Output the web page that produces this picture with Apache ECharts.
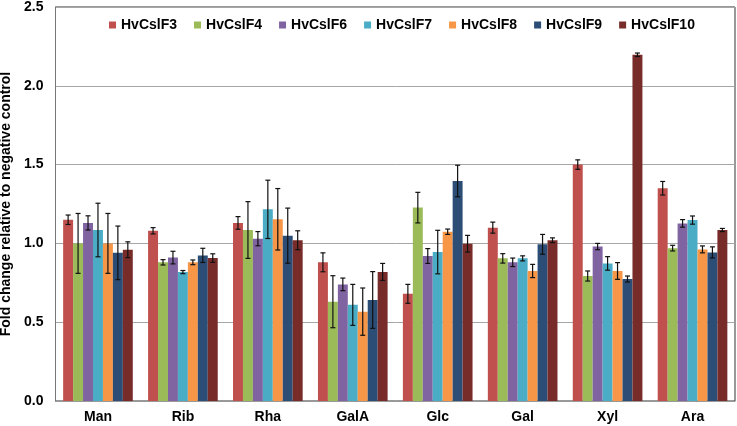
<!DOCTYPE html>
<html><head><meta charset="utf-8">
<script src="https://cdn.jsdelivr.net/npm/echarts@6/dist/echarts.min.js"></script>
<style>html,body{margin:0;padding:0;background:#fff}#c{width:737px;height:426px}</style>
</head><body><div id="c"></div>
<script>
const categories = ['Man','Rib','Rha','GalA','Glc','Gal','Xyl','Ara'];
const seriesNames = ['HvCslF3','HvCslF4','HvCslF6','HvCslF7','HvCslF8','HvCslF9','HvCslF10'];
const colors = ['#C0504D','#9BBB59','#8064A2','#4BACC6','#F79646','#2C4D75','#772C2A'];
const F3 = [1.15, 1.08, 1.13, 0.88, 0.68, 1.10, 1.50, 1.35];
const F3err = [0.03, 0.02, 0.04, 0.06, 0.06, 0.035, 0.03, 0.043];
const F4 = [1.00, 0.88, 1.085, 0.63, 1.227, 0.905, 0.793, 0.97];
const F4err = [0.19, 0.017, 0.18, 0.165, 0.097, 0.03, 0.032, 0.018];
const F6 = [1.13, 0.91, 1.03, 0.74, 0.92, 0.88, 0.98, 1.127];
const F6err = [0.045, 0.04, 0.045, 0.04, 0.047, 0.027, 0.02, 0.024];
const F7 = [1.085, 0.818, 1.216, 0.61, 0.945, 0.905, 0.873, 1.148];
const F7err = [0.17, 0.01, 0.185, 0.13, 0.138, 0.016, 0.043, 0.026];
const F8 = [1.00, 0.88, 1.153, 0.567, 1.074, 0.825, 0.825, 0.962];
const F8err = [0.19, 0.015, 0.195, 0.15, 0.017, 0.042, 0.053, 0.022];
const F9 = [0.94, 0.924, 1.049, 0.641, 1.396, 0.994, 0.774, 0.943];
const F9err = [0.17, 0.045, 0.175, 0.18, 0.1, 0.063, 0.019, 0.035];
const F10 = [0.96, 0.907, 1.02, 0.819, 0.998, 1.02, 2.197, 1.085];
const F10err = [0.05, 0.027, 0.06, 0.054, 0.053, 0.015, 0.011, 0.01];
const yTicks = ['0.0','0.5','1.0','1.5','2.0','2.5'];

const values = [F3, F4, F6, F7, F8, F9, F10];
const errors = [F3err, F4err, F6err, F7err, F8err, F9err, F10err];
const CAT_GAP = 0.18;
const FONT = '"Liberation Sans", Arial, sans-serif';

const chart = echarts.init(document.getElementById('c'));
const series = [];
values.forEach((vals, i) => {
  series.push({
    name: seriesNames[i], type: 'bar', data: vals,
    barGap: '0%', barCategoryGap: (CAT_GAP*100)+'%',
    itemStyle: {color: colors[i]}, z: 2
  });
});
values.forEach((vals, i) => {
  series.push({
    type: 'custom', z: 5, silent: true,
    data: vals.map((v, k) => [k, v, errors[i][k]]),
    renderItem: function (params, api) {
      const k = api.value(0), v = api.value(1), e = api.value(2);
      const c = api.coord([k, v]);
      const band = api.size([1, 0])[0];
      const bw = band * (1 - CAT_GAP) / values.length;
      const x = c[0] - band * (1 - CAT_GAP) / 2 + (i + 0.5) * bw;
      const yT = api.coord([k, v + e])[1];
      const yB = api.coord([k, v - e])[1];
      const cap = 2.5;
      const st = {stroke: '#111', lineWidth: 1.2};
      return {type: 'group', children: [
        {type: 'line', shape: {x1: x, y1: yT, x2: x, y2: yB}, style: st},
        {type: 'line', shape: {x1: x-cap, y1: yT, x2: x+cap, y2: yT}, style: st},
        {type: 'line', shape: {x1: x-cap, y1: yB, x2: x+cap, y2: yB}, style: st}
      ]};
    }
  });
});

chart.setOption({
  animation: false,
  grid: {left: 55.5, right: 2, top: 7, bottom: 25, show: true, borderColor: '#333', borderWidth: 1,
    backgroundColor: 'transparent', containLabel: false, outerBoundsMode: 'none'},
  legend: {
    data: seriesNames, left: 104, top: 13, icon: 'rect', itemWidth: 7, itemHeight: 7, itemGap: 17,
    textStyle: {fontFamily: FONT, fontWeight: 'bold', fontSize: 14, color: '#000'}
  },
  xAxis: {
    type: 'category', data: categories,
    axisLine: {lineStyle: {color: '#999', width: 1}},
    axisTick: {show: false},
    axisLabel: {fontFamily: FONT, fontWeight: 'bold', fontSize: 14, color: '#000', margin: 9}
  },
  yAxis: {
    type: 'value', min: 0, max: 2.5, interval: 0.5,
    name: 'Fold change relative to negative control', nameLocation: 'middle', nameGap: 38, nameRotate: 90,
    nameTextStyle: {fontFamily: FONT, fontWeight: 'bold', fontSize: 14, color: '#000'},
    axisLine: {show: true, lineStyle: {color: '#777'}},
    axisTick: {show: false},
    splitLine: {lineStyle: {color: '#A6A6A6'}},
    axisLabel: {fontFamily: FONT, fontWeight: 'bold', fontSize: 14, color: '#000', margin: 12,
      formatter: v => yTicks[Math.round(v / 0.5)]}
  },
  series: series
});
</script></body></html>
